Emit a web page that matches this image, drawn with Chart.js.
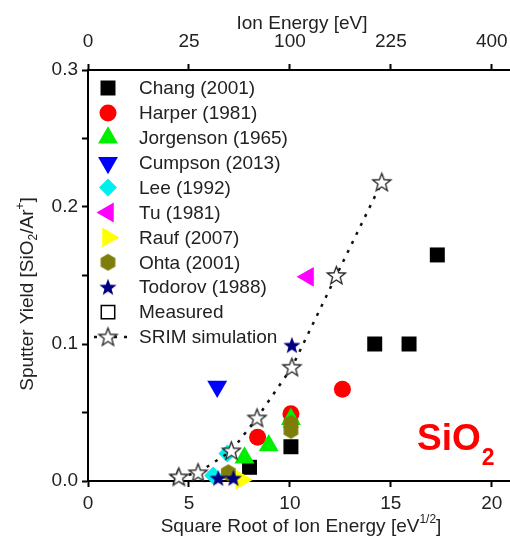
<!DOCTYPE html>
<html>
<head>
<meta charset="utf-8">
<script src="https://cdn.jsdelivr.net/npm/chart.js@4.4.0/dist/chart.umd.min.js"></script>
<style>
  html, body { margin: 0; padding: 0; background: #fff; overflow: hidden; }
  canvas { display: block; }
</style>
</head>
<body>
<canvas id="myChart" width="510" height="539"></canvas>
<script>
// Axis ticks: bottom is sqrt(E), top shows E itself at the same places
const sqrtTicks = [0, 5, 10, 15, 20];
const energyLabels = ['0', '25', '100', '225', '400'];
const yTicks = [0, 0.05, 0.1, 0.15, 0.2, 0.25, 0.3];
const yLabels = ['0.0', '', '0.1', '', '0.2', '', '0.3'];

// Series values, [sqrt(E), yield]
const chang = [[8.0, 0.010], [10.05, 0.025], [14.2, 0.100], [15.9, 0.100], [17.3, 0.165]];
const harper = [[8.4, 0.032], [10.05, 0.049], [12.6, 0.067]];
const jorgenson = [[7.75, 0.017], [8.95, 0.026], [10.05, 0.045]];
const cumpson = [[6.4, 0.069]];
const lee = [[6.2, 0.004], [6.9, 0.020]];
const tu = [[10.9, 0.149]];
const rauf = [[7.6, 0.001]];
const ohta = [[6.95, 0.006], [10.05, 0.042], [10.05, 0.037]];
const todorov = [[4.45, 0.003], [6.45, 0.002], [7.2, 0.002], [10.1, 0.099]];
const srim = [[4.5, 0.003], [5.45, 0.006], [7.1, 0.022], [8.37, 0.046], [10.1, 0.083], [12.3, 0.150], [14.55, 0.218]];

const textColor = '#222';
const fontFam = '"Liberation Sans", Arial, Helvetica, sans-serif';

// Chart.js has no filled star or hexagon, so draw them on small canvases
function starImage(r, fill, stroke, lw) {
  const c = document.createElement('canvas');
  const s = Math.ceil(r * 2 + lw + 2);
  c.width = s; c.height = s;
  const g = c.getContext('2d');
  g.beginPath();
  for (let i = 0; i < 10; i++) {
    const rr = i % 2 === 0 ? r : r * 0.42;
    const a = -Math.PI / 2 + i * Math.PI / 5;
    g.lineTo(s / 2 + rr * Math.cos(a), s / 2 + rr * Math.sin(a) + 0.5);
  }
  g.closePath();
  g.fillStyle = fill; g.fill();
  if (stroke) { g.lineWidth = lw; g.strokeStyle = stroke; g.lineJoin = 'miter'; g.stroke(); }
  return c;
}
function hexImage(r, fill) {
  const c = document.createElement('canvas');
  const s = Math.ceil(r * 2 + 2);
  c.width = s; c.height = s;
  const g = c.getContext('2d');
  g.beginPath();
  for (let i = 0; i < 6; i++) {
    const a = -Math.PI / 2 + i * Math.PI / 3;
    g.lineTo(s / 2 + r * Math.cos(a), s / 2 + r * Math.sin(a));
  }
  g.closePath();
  g.fillStyle = fill; g.fill();
  return c;
}

const toPts = arr => arr.map(p => ({ x: p[0], y: p[1] }));

function series(label, data, color, style, radius, rotation) {
  return {
    label: label,
    data: toPts(data),
    pointStyle: style,
    pointRadius: radius,
    pointHoverRadius: radius,
    pointRotation: rotation || 0,
    backgroundColor: color,
    borderColor: color,
    borderWidth: 0,
    clip: false
  };
}

const datasets = [
  series('Chang (2001)', chang, '#000000', 'rect', 10.6),
  series('Harper (1981)', harper, '#ff0000', 'circle', 8.5),
  series('Jorgenson (1965)', jorgenson, '#00ee00', 'triangle', 11.5),
  series('Cumpson (2013)', cumpson, '#0000ff', 'triangle', 11.5, 180),
  series('Lee (1992)', lee, '#00eeee', 'rectRot', 9),
  series('Tu (1981)', tu, '#ff00ff', 'triangle', 11.5, 270),
  series('Rauf (2007)', rauf, '#ffff00', 'triangle', 11.5, 90),
  series('Ohta (2001)', ohta, '#7d7d0a', hexImage(8.5, '#7d7d0a'), 9),
  series('Todorov (1988)', todorov, '#000080', starImage(9, '#000080', null, 0), 9),
  {
    label: 'Measured', data: [], pointStyle: 'rect', pointRadius: 9.5,
    backgroundColor: '#fff', borderColor: '#000', borderWidth: 1.5
  },
  {
    label: 'SRIM simulation', data: toPts(srim), showLine: true,
    pointStyle: starImage(9.5, '#fff', '#222', 1.3), pointRadius: 10,
    borderColor: '#111', backgroundColor: '#fff', borderWidth: 2.5,
    borderDash: [3, 7], clip: false
  }
];
// later series are painted on top
datasets.forEach((d, i) => { d.order = datasets.length - i; });

function drawRich(ctx, parts, cx, y, size) {
  const fonts = parts.map(p => ((p.sup || p.sub) ? Math.round(size * 0.62) : size) + 'px ' + fontFam);
  let total = 0;
  const widths = parts.map((p, i) => { ctx.font = fonts[i]; const w = ctx.measureText(p.t).width; total += w; return w; });
  let x = cx - total / 2;
  ctx.textAlign = 'left';
  parts.forEach((p, i) => {
    ctx.font = fonts[i];
    const dy = p.sup ? -size * 0.45 : (p.sub ? size * 0.22 : 0);
    ctx.fillText(p.t, x, y + dy);
    x += widths[i];
  });
}

const decorPlugin = {
  id: 'decor',
  afterDraw(chart) {
    const ctx = chart.ctx;
    ctx.save();
    ctx.fillStyle = textColor;
    ctx.textBaseline = 'alphabetic';
    // axis titles
    drawRich(ctx, [{ t: 'Ion Energy [eV]' }], 302, 29, 19);
    drawRich(ctx, [{ t: 'Square Root of Ion Energy [eV' }, { t: '1/2', sup: true }, { t: ']' }], 301, 532, 19);
    ctx.save();
    ctx.translate(33, 294);
    ctx.rotate(-Math.PI / 2);
    drawRich(ctx, [{ t: 'Sputter Yield [SiO' }, { t: '2', sub: true }, { t: '/Ar' }, { t: '+', sup: true }, { t: ']' }], 0, 0, 19);
    ctx.restore();

    // legend
    const lx = 108, ly0 = 88, step = 24.9;
    datasets.forEach((d, i) => {
      const yy = ly0 + i * step;
      if (d.showLine) {
        ctx.save();
        ctx.strokeStyle = d.borderColor;
        ctx.lineWidth = d.borderWidth;
        ctx.setLineDash(d.borderDash);
        ctx.beginPath(); ctx.moveTo(94, yy); ctx.lineTo(134, yy); ctx.stroke();
        ctx.restore();
      }
      ctx.save();
      ctx.fillStyle = d.backgroundColor;
      ctx.strokeStyle = d.borderColor;
      ctx.lineWidth = d.borderWidth;
      Chart.helpers.drawPoint(ctx, {
        pointStyle: d.pointStyle, rotation: d.pointRotation || 0,
        radius: d.pointRadius, borderWidth: d.borderWidth
      }, lx, yy);
      ctx.restore();
      ctx.fillStyle = textColor;
      ctx.font = '19px ' + fontFam;
      ctx.textAlign = 'left';
      ctx.textBaseline = 'middle';
      ctx.fillText(d.label, 139, yy + 1);
    });

    // material label
    ctx.fillStyle = '#ff0000';
    ctx.textBaseline = 'alphabetic';
    ctx.textAlign = 'left';
    ctx.font = 'bold 37px ' + fontFam;
    ctx.fillText('SiO', 417, 450);
    const w = ctx.measureText('SiO').width;
    ctx.font = 'bold 23px ' + fontFam;
    ctx.fillText('2', 417 + w + 1, 465);
    ctx.restore();
  }
};

const axisGrid = { drawOnChartArea: false, drawTicks: true, tickLength: 6, tickWidth: 2, tickColor: '#000' };
const axisBorder = { display: true, color: '#000', width: 2 };
const tickFont = { family: fontFam, size: 19 };

// keep the plot area fixed: no extra room for edge labels
function noPad(s) { s.paddingLeft = 0; s.paddingRight = 0; s.paddingTop = 0; s.paddingBottom = 0; }

new Chart(document.getElementById('myChart'), {
  type: 'scatter',
  data: { datasets: datasets },
  options: {
    responsive: false,
    animation: false,
    layout: { padding: 0, autoPadding: false },
    plugins: { legend: { display: false }, tooltip: { enabled: false } },
    scales: {
      x: {
        type: 'linear', position: 'bottom', min: 0, max: 20.9, z: 1,
        afterBuildTicks: s => { s.ticks = sqrtTicks.map(v => ({ value: v })); },
        afterFit: s => { s.height = 58; noPad(s); },
        ticks: { font: tickFont, color: textColor, padding: 5, autoSkip: false, maxRotation: 0,
                 callback: v => String(v) },
        grid: axisGrid, border: axisBorder
      },
      x2: {
        type: 'linear', position: 'top', min: 0, max: 20.9, z: 1,
        afterBuildTicks: s => { s.ticks = sqrtTicks.map(v => ({ value: v })); },
        afterFit: s => { s.height = 70; noPad(s); },
        ticks: { font: tickFont, color: textColor, padding: 11, autoSkip: false, maxRotation: 0,
                 callback: (v, i) => energyLabels[i] },
        grid: axisGrid, border: axisBorder
      },
      y: {
        type: 'linear', position: 'left', min: 0, max: 0.3, z: 1,
        afterBuildTicks: s => { s.ticks = yTicks.map(v => ({ value: v })); },
        afterFit: s => { s.width = 88; noPad(s); },
        ticks: { font: tickFont, color: textColor, padding: 4, autoSkip: false,
                 callback: (v, i) => yLabels[i] },
        grid: axisGrid, border: axisBorder
      }
    }
  },
  plugins: [decorPlugin]
});
</script>
</body>
</html>
